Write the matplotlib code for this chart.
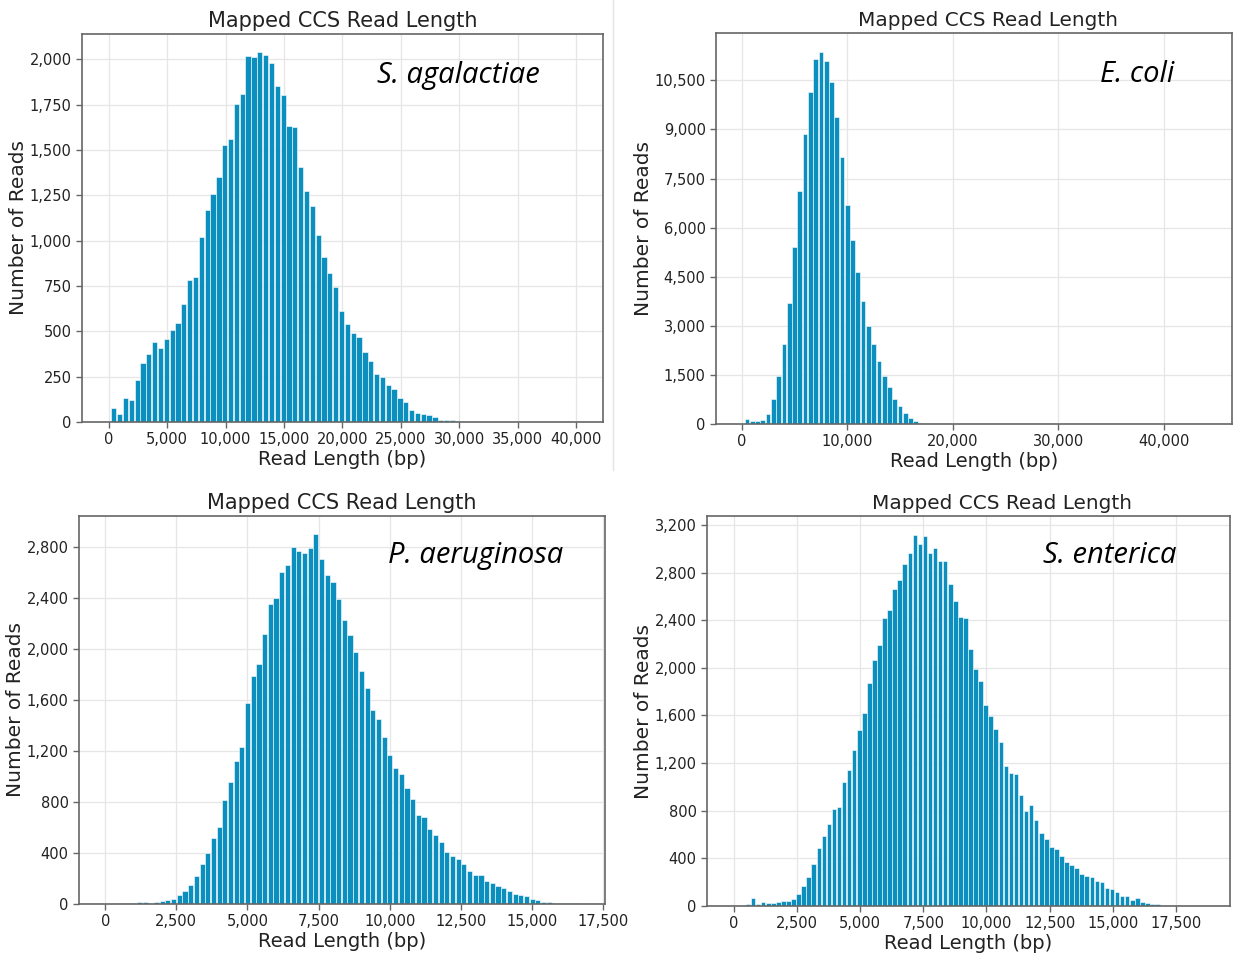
import numpy as np
import matplotlib
matplotlib.use("Agg")
import matplotlib.pyplot as plt
from matplotlib.ticker import FuncFormatter, MultipleLocator

plt.rcParams["font.family"] = ["DejaVu Sans"]

# Histogram counts (reads per bin)
agalactiae_counts = [77, 42, 135, 122, 230, 323, 376, 441, 409, 459, 507, 548, 653, 784, 798,
                     1018, 1169, 1256, 1350, 1527, 1560, 1757, 1812, 2019, 2011, 2039, 2026,
                     1980, 1851, 1805, 1635, 1630, 1408, 1274, 1191, 1029, 909, 820, 745, 610,
                     542, 492, 468, 385, 334, 264, 247, 203, 181, 135, 111, 65, 52, 44, 37, 26,
                     12, 10, 9, 4, 2]
agalactiae_bin_center = 430
agalactiae_bin_width = 500

ecoli_counts = [153, 82, 82, 133, 316, 776, 1469, 2429, 3704, 5398, 7122, 8847, 10153, 11143,
                11378, 11092, 10459, 9378, 8143, 6704, 5612, 4643, 3765, 2980, 2439, 1918,
                1459, 1133, 776, 551, 347, 194, 92, 31, 8]
ecoli_bin_center = 490
ecoli_bin_width = 500

aeruginosa_counts = [8, 8, 8, 13, 13, 8, 13, 26, 29, 39, 71, 102, 152, 223, 312, 398, 516, 608,
                     817, 956, 1121, 1234, 1577, 1789, 1886, 2117, 2355, 2400, 2607, 2662, 2801,
                     2772, 2751, 2795, 2900, 2704, 2581, 2526, 2395, 2232, 2112, 1981, 1829,
                     1698, 1520, 1451, 1310, 1166, 1066, 1022, 909, 825, 702, 686, 589, 545,
                     490, 406, 375, 354, 317, 262, 228, 228, 178, 162, 144, 126, 100, 76, 73,
                     65, 42, 32, 18, 12, 10, 8, 6, 5, 5]
aeruginosa_bin_center = 604
aeruginosa_bin_width = 200

enterica_counts = [6, 17, 64, 20, 31, 28, 28, 31, 39, 45, 56, 101, 168, 246, 350, 490, 587, 691,
                   814, 834, 1043, 1141, 1309, 1477, 1622, 1871, 2064, 2193, 2422, 2487, 2660,
                   2738, 2876, 2968, 3119, 3041, 3108, 2965, 3007, 2898, 2895, 2702, 2562, 2428,
                   2417, 2162, 1994, 1888, 1687, 1597, 1485, 1376, 1178, 1113, 1108, 929, 800,
                   845, 724, 615, 565, 492, 481, 417, 366, 347, 316, 266, 252, 241, 207, 201,
                   148, 143, 117, 87, 81, 53, 70, 34, 25, 20, 14, 10, 8, 6, 5]
enterica_bin_center = 366
enterica_bin_width = 200

species = ["S. agalactiae", "E. coli", "P. aeruginosa", "S. enterica"]

BAR_COLOR = "#0b8fbf"
TEXT_COLOR = "#222222"

fig = plt.figure(figsize=(12.41, 9.56), dpi=100)

# axes rectangles measured off the composite (left, bottom, width, height)
rects = [
    [0.0661, 0.5586, 0.4198, 0.4059],
    [0.5770, 0.5565, 0.4158, 0.4090],
    [0.0637, 0.0544, 0.4238, 0.4059],
    [0.5697, 0.0523, 0.4214, 0.4079],
]
panels = [
    (agalactiae_counts, agalactiae_bin_center, agalactiae_bin_width, (-2288, 42317), 5000, 250),
    (ecoli_counts, ecoli_bin_center, ecoli_bin_width, (-2443, 46450), 10000, 1500),
    (aeruginosa_counts, aeruginosa_bin_center, aeruginosa_bin_width, (-919, 17563), 2500, 400),
    (enterica_counts, enterica_bin_center, enterica_bin_width, (-1058, 19632), 2500, 400),
]
label_pos = [(0.566, 0.894), (0.744, 0.893), (0.587, 0.899), (0.642, 0.900)]
# the right-hand panels were pasted in slightly smaller, with an off-centre title
title_x = [0.5, 0.527, 0.5, 0.564]
title_size = [15, 14.4, 15, 14.4]

comma = FuncFormatter(lambda v, p: "{:,.0f}".format(v))

for i in range(4):
    counts, c0, w, xlim, xstep, ystep = panels[i]
    counts = np.array(counts)
    centers = c0 + w * np.arange(len(counts))

    ax = fig.add_axes(rects[i])
    ax.set_axisbelow(True)
    ax.bar(centers, counts, width=w * 0.9, color=BAR_COLOR, edgecolor="white", linewidth=0.4)

    ax.set_xlim(xlim)
    ax.set_ylim(0, counts.max() * 1.05)
    ax.xaxis.set_major_locator(MultipleLocator(xstep))
    ax.yaxis.set_major_locator(MultipleLocator(ystep))
    ax.xaxis.set_major_formatter(comma)
    ax.yaxis.set_major_formatter(comma)
    ax.grid(True, color="#e6e6e6", linewidth=0.9)

    for s in ax.spines.values():
        s.set_color("#666666")
        s.set_linewidth(1.2)
    ax.tick_params(axis="both", labelsize=10.5, colors="#666666", labelcolor=TEXT_COLOR,
                   length=4, width=1)

    ax.set_title("Mapped CCS Read Length", fontsize=title_size[i], color=TEXT_COLOR,
                 pad=5, x=title_x[i])
    ax.set_xlabel("Read Length (bp)", fontsize=14, color=TEXT_COLOR, labelpad=2)
    ax.set_ylabel("Number of Reads", fontsize=14.5, color=TEXT_COLOR, labelpad=1)

    ax.text(label_pos[i][0], label_pos[i][1], species[i], transform=ax.transAxes,
            ha="left", va="center", fontsize=21, style="italic", family="Open Sans",
            color="black")

# faint divider between the two top panels
fig.add_artist(plt.Line2D([613 / 1241, 613 / 1241], [1 - 470 / 956, 1.0],
                          color="#e4e4e4", linewidth=1, transform=fig.transFigure))

fig.savefig("out.png", dpi=100, facecolor="white")
